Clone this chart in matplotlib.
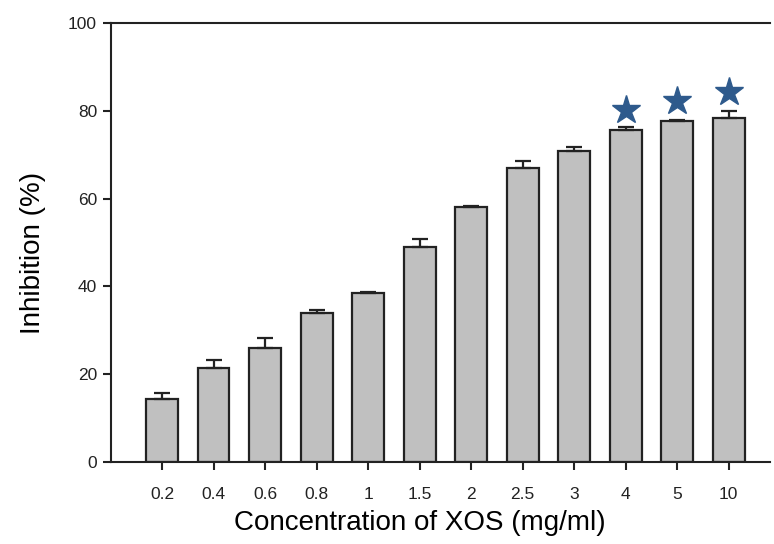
import matplotlib
matplotlib.use("Agg")
import matplotlib.pyplot as plt
import numpy as np

plt.rcParams['font.family'] = ['Liberation Sans', 'DejaVu Sans']

concentrations = ["0.2", "0.4", "0.6", "0.8", "1", "1.5", "2", "2.5", "3", "4", "5", "10"]
inhibition = [14.3, 21.4, 26.0, 33.9, 38.5, 49.0, 58.1, 67.0, 70.8, 75.6, 77.7, 78.4]
std_err = [1.4, 1.8, 2.2, 0.7, 0.2, 1.8, 0.2, 1.6, 1.0, 0.7, 0.2, 1.6]
starred = ["4", "5", "10"]
star_heights = [80.2, 82.2, 84.3]

fig = plt.figure(figsize=(7.74, 5.44), dpi=100)
ax = fig.add_axes([0.1434, 0.1507, 0.8514, 0.807])

x = np.arange(len(concentrations))
lower = [0] * len(std_err)
ax.bar(x, inhibition, width=0.62, color="#c0c0c0", edgecolor="#222222",
       linewidth=1.6, zorder=2)
ax.errorbar(x, inhibition, yerr=[lower, std_err], fmt="none", ecolor="#222222",
            elinewidth=1.6, capsize=5.5, capthick=1.6, zorder=3)

for label, h in zip(starred, star_heights):
    ax.plot(concentrations.index(label), h, marker="*", markersize=21,
            color="#2e5a8c", linestyle="none", zorder=4)

ax.set_xlim(-0.99, 11.8)
ax.set_ylim(0, 100)
ax.set_xticks(x)
ax.set_xticklabels(concentrations, fontsize=12.5, color="#222222")
ax.set_yticks([0, 20, 40, 60, 80, 100])
ax.set_yticklabels(["0", "20", "40", "60", "80", "100"], fontsize=12.5, color="#222222")

ax.spines["right"].set_visible(False)
for side in ["left", "top", "bottom"]:
    ax.spines[side].set_linewidth(1.5)
    ax.spines[side].set_color("#222222")

ax.tick_params(axis="both", direction="out", length=6, width=1.5, color="#222222")
ax.tick_params(axis="x", pad=12)
ax.tick_params(axis="y", pad=4)

ax.set_xlabel("Concentration of XOS (mg/ml)", fontsize=20, labelpad=6,
              x=0.469, ha="center")
ax.set_ylabel("Inhibition (%)", fontsize=20, labelpad=16,
              y=0.476, ha="center")

fig.savefig("out.png", dpi=100)
